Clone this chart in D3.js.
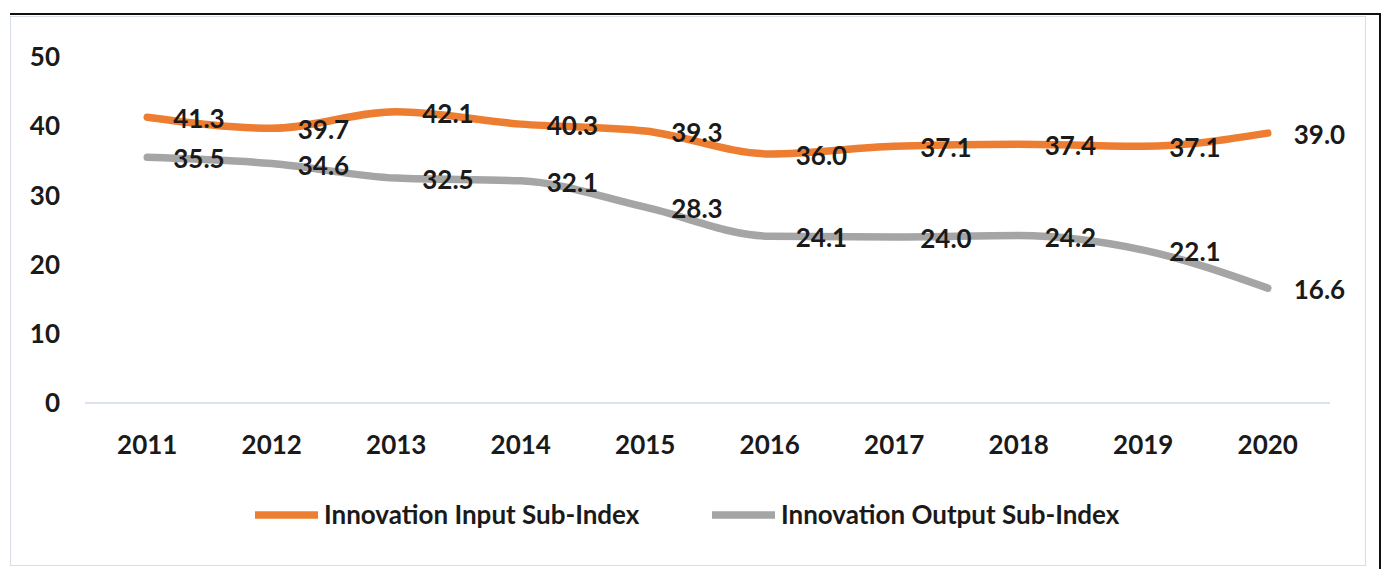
<!DOCTYPE html>
<html><head><meta charset="utf-8">
<script src="https://cdn.jsdelivr.net/npm/d3@7"></script>
<style>
html,body{margin:0;padding:0;background:#fff;}
svg{display:block;}
text{font-family:Lato,"Open Sans",sans-serif;font-weight:700;fill:#1a1a1a;}
</style></head>
<body><svg id="c" width="1384" height="569"></svg>
<script>
const years = ["2011","2012","2013","2014","2015","2016","2017","2018","2019","2020"];
const inputIndex = [41.3, 39.7, 42.1, 40.3, 39.3, 36.0, 37.1, 37.4, 37.1, 39.0];
const outputIndex = [35.5, 34.6, 32.5, 32.1, 28.3, 24.1, 24.0, 24.2, 22.1, 16.6];
const yTicks = [0, 10, 20, 30, 40, 50];
const seriesNames = ["Innovation Input Sub-Index", "Innovation Output Sub-Index"];
const seriesColors = ["#ED7D31", "#A5A5A5"];

const svg = d3.select("#c");

// frame
svg.append("rect").attr("x",10.5).attr("y",16.5).attr("width",1355).attr("height",549)
  .attr("fill","none").attr("stroke","#d9dee6").attr("stroke-width",1);
svg.append("line").attr("x1",10).attr("x2",1381).attr("y1",14).attr("y2",14).attr("stroke","#111").attr("stroke-width",2);
svg.append("line").attr("x1",1380).attr("x2",1380).attr("y1",13).attr("y2",569).attr("stroke","#111").attr("stroke-width",2);

const x = d3.scaleBand().domain(years).range([85,1330]);
const y = d3.scaleLinear().domain([0,50]).range([403,57]);
const cx = d => x(d) + x.bandwidth()/2;

// baseline
svg.append("line").attr("x1",85).attr("x2",1330).attr("y1",y(0)).attr("y2",y(0))
  .attr("stroke","#cdd9e8").attr("stroke-width",1.5);

const fs = 26;
// y tick labels
svg.append("g").selectAll("text").data(yTicks).join("text")
  .attr("x",60).attr("y",d=>y(d)).attr("dy","0.35em").attr("text-anchor","end")
  .attr("font-size",fs).text(d=>d);

// x tick labels
svg.append("g").selectAll("text").data(years).join("text")
  .attr("x",d=>cx(d)).attr("y",445).attr("dy","0.35em").attr("text-anchor","middle")
  .attr("font-size",fs).text(d=>d);

const line = d3.line().x((d,i)=>cx(years[i])).y(d=>y(d)).curve(d3.curveMonotoneX);

[inputIndex, outputIndex].forEach((vals, s) => {
  svg.append("path").datum(vals).attr("d", line).attr("fill","none")
    .attr("stroke", seriesColors[s]).attr("stroke-width",7.5).attr("stroke-linecap","round");
});
[inputIndex, outputIndex].forEach((vals, s) => {
  svg.append("g").selectAll("text").data(vals).join("text")
    .attr("x",(d,i)=>cx(years[i])+26).attr("y",d=>y(d)+2).attr("dy","0.35em")
    .attr("font-size",fs).text(d=>d.toFixed(1));
});

// legend
const legendX = [255, 712];
seriesNames.forEach((n, s) => {
  const g = svg.append("g");
  g.append("line").attr("x1",legendX[s]).attr("x2",legendX[s]+63).attr("y1",515).attr("y2",515)
    .attr("stroke",seriesColors[s]).attr("stroke-width",7.5);
  g.append("text").attr("x",legendX[s]+69).attr("y",515).attr("dy","0.35em")
    .attr("font-size",fs).text(n);
});
</script></body></html>
